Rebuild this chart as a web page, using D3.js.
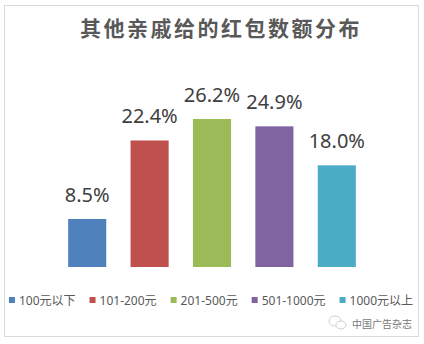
<!DOCTYPE html>
<html>
<head>
<meta charset="utf-8">
<script src="https://cdn.jsdelivr.net/npm/d3@7"></script>
<style>
  body { margin: 0; background: #fff; }
</style>
</head>
<body>
<div id="chart"></div>
<script>
// Chart data
const categories = ["100元以下", "101-200元", "201-500元", "501-1000元", "1000元以上"];
const values = [8.5, 22.4, 26.2, 24.9, 18.0];
const colors = ["#4f81bd", "#c0504d", "#9bbb59", "#8064a2", "#4bacc6"];
const title = "其他亲戚给的红包数额分布";
const watermark = "中国广告杂志";

const W = 424, H = 344;
const svg = d3.select("#chart")
    .append("svg")
    .attr("width", W)
    .attr("height", H);

// outer frame
svg.append("rect")
    .attr("x", 4.5).attr("y", 5.5)
    .attr("width", 414).attr("height", 331)
    .attr("fill", "#fff")
    .attr("stroke", "#d9d9d9");

// Title
svg.append("text")
    .attr("x", 221).attr("y", 36)
    .attr("text-anchor", "middle")
    .attr("font-family", "'Noto Sans CJK SC', sans-serif")
    .attr("font-size", 21)
    .attr("font-weight", "bold")
    .attr("letter-spacing", 2.5)
    .attr("fill", "#595959")
    .text(title);

// Scales
const x = d3.scaleBand()
    .domain(categories)
    .range([56, 368])
    .paddingInner(0.39)
    .paddingOuter(0.195);

const y = d3.scaleLinear()
    .domain([0, 26.2])
    .range([267, 119]);

// Bars
svg.selectAll(".bar")
    .data(values)
    .enter()
    .append("rect")
    .attr("class", "bar")
    .attr("x", (d, i) => x(categories[i]))
    .attr("y", d => y(d))
    .attr("width", x.bandwidth())
    .attr("height", d => y(0) - y(d))
    .attr("fill", (d, i) => colors[i]);

// Value labels
svg.selectAll(".lbl")
    .data(values)
    .enter()
    .append("text")
    .attr("class", "lbl")
    .attr("x", (d, i) => x(categories[i]) + x.bandwidth() / 2)
    .attr("y", d => y(d) - 17)
    .attr("text-anchor", "middle")
    .attr("font-family", "'Noto Sans', sans-serif")
    .attr("font-size", 20)
    .attr("fill", "#404040")
    .text(d => d.toFixed(1) + "%");

// Legend
const legend = svg.append("g");
let lx = 0;
categories.forEach((c, i) => {
    const g = legend.append("g").attr("transform", "translate(" + lx + ",0)");
    g.append("rect")
        .attr("x", 0).attr("y", -3)
        .attr("width", 6).attr("height", 6)
        .attr("fill", colors[i]);
    const t = g.append("text")
        .attr("x", 10).attr("y", 4.5)
        .attr("font-family", "'Noto Sans', 'Noto Sans CJK SC', sans-serif")
        .attr("font-size", 12)
        .attr("fill", "#595959")
        .text(c);
    lx += 10 + t.node().getComputedTextLength() + 14;
});
lx -= 14;
legend.attr("transform", "translate(" + (211 - lx / 2) + ",300)");

// Watermark
const wm = svg.append("g").attr("transform", "translate(329,324)");
wm.append("ellipse")
    .attr("cx", 6).attr("cy", -3).attr("rx", 6).attr("ry", 5)
    .attr("fill", "none").attr("stroke", "#d0d0d0");
wm.append("ellipse")
    .attr("cx", 12).attr("cy", 1).attr("rx", 5).attr("ry", 4)
    .attr("fill", "#fff").attr("stroke", "#d0d0d0");
wm.append("text")
    .attr("x", 23).attr("y", 4)
    .attr("font-family", "'Noto Sans CJK SC', sans-serif")
    .attr("font-size", 10)
    .attr("fill", "#777")
    .text(watermark);
</script>
</body>
</html>
